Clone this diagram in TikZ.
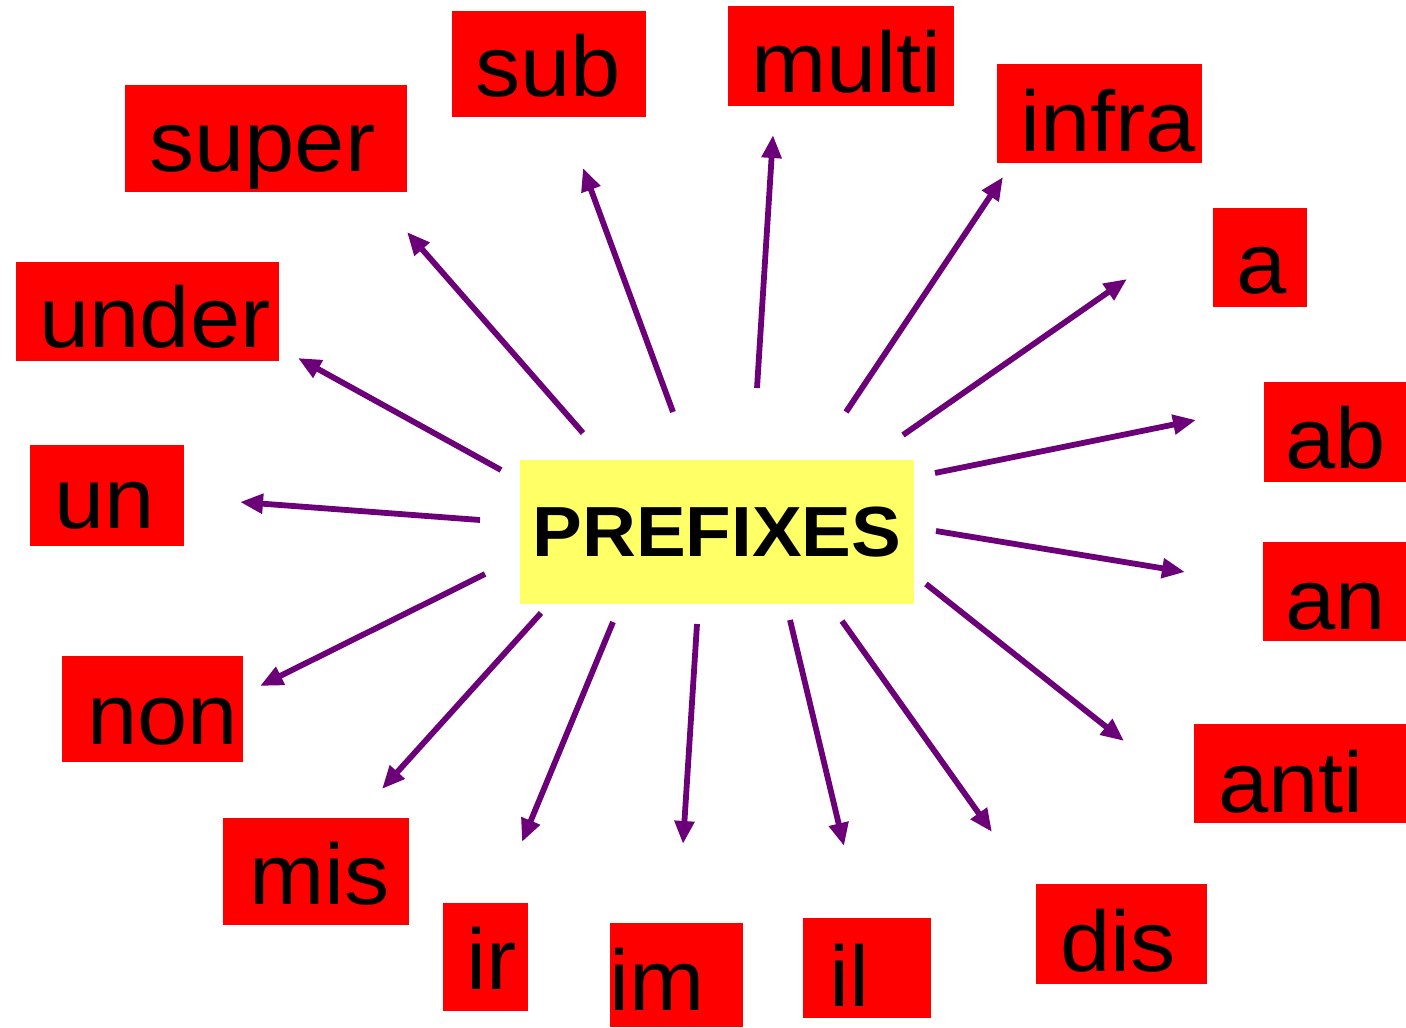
\documentclass[tikz,border=0pt]{standalone}
\usepackage{fontspec}
\setmainfont[FakeStretch=1.05]{Liberation Sans}
\usetikzlibrary{arrows.meta}
\definecolor{boxred}{RGB}{255,0,0}
\definecolor{boxyellow}{RGB}{255,255,102}
\definecolor{arrowpurple}{RGB}{108,0,120}
\tikzset{
  rbox/.style={fill=boxred, inner sep=0pt, outer sep=0pt},
  word/.style={anchor=base west, inner sep=0pt, text=black, font=\fontsize{43pt}{50pt}\selectfont},
  arr/.style={draw=arrowpurple, line width=2.9pt, -{Triangle[length=11.5pt,width=9.5pt]}}
}
\begin{document}
\begin{tikzpicture}[x=0.5pt,y=-0.5pt]
\useasboundingbox (0,0) rectangle (1406,1027);
\fill[white] (0,0) rectangle (1406,1027);
% centre
\node[fill=boxyellow, inner sep=0pt, minimum width=197pt, minimum height=72pt,
      font=\bfseries\fontsize{35.5pt}{42pt}\selectfont] (P) at (717,532) {PREFIXES};
% boxes
\node[rbox, minimum width=141pt, minimum height=53.5pt] (super) at (266,138.5) {};
\node[rbox, minimum width=97pt, minimum height=53pt] (sub) at (549,64) {};
\node[rbox, minimum width=113pt, minimum height=50pt] (multi) at (841,56) {};
\node[rbox, minimum width=102.5pt, minimum height=49.5pt] (infra) at (1099.5,113.5) {};
\node[rbox, minimum width=47pt, minimum height=49.5pt] (a) at (1260,257.5) {};
\node[rbox, minimum width=71pt, minimum height=50pt] (ab) at (1335,432) {};
\node[rbox, minimum width=71.5pt, minimum height=49.5pt] (an) at (1334.5,591.5) {};
\node[rbox, minimum width=106pt, minimum height=49.5pt] (anti) at (1300,773.5) {};
\node[rbox, minimum width=85.5pt, minimum height=50pt] (dis) at (1121.5,934) {};
\node[rbox, minimum width=64pt, minimum height=50pt] (il) at (867,968) {};
\node[rbox, minimum width=66.5pt, minimum height=52pt] (im) at (676.5,975) {};
\node[rbox, minimum width=42.5pt, minimum height=54pt] (ir) at (485.5,957) {};
\node[rbox, minimum width=93pt, minimum height=53.5pt] (mis) at (316,871.5) {};
\node[rbox, minimum width=90.5pt, minimum height=53pt] (non) at (152.5,709) {};
\node[rbox, minimum width=77pt, minimum height=50.5pt] (un) at (107,495.5) {};
\node[rbox, minimum width=131.5pt, minimum height=49.5pt] (under) at (147.5,311.5) {};
% words
\node[word] (t-super) at (149,172) {super};
\node[word] (t-sub) at (475,97) {sub};
\node[word] (t-multi) at (751,93) {multi};
\node[word] (t-infra) at (1020,152) {infra};
\node[word] (t-a) at (1236,293) {a};
\node[word] (t-ab) at (1285,468) {ab};
\node[word] (t-an) at (1285,629) {an};
\node[word] (t-anti) at (1218,812) {anti};
\node[word] (t-dis) at (1060,971) {dis};
\node[word] (t-il) at (829,1006) {il};
\node[word] (t-im) at (609,1010) {im};
\node[word] (t-ir) at (466,989) {ir};
\node[word] (t-mis) at (249,904) {mis};
\node[word] (t-non) at (87,744) {non};
\node[word] (t-un) at (54,528) {un};
\node[word] (t-under) at (39,347) {under};
% arrow ends
\coordinate (s-super) at (583,433); \coordinate (e-super) at (407,232);
\coordinate (s-sub) at (673,412);   \coordinate (e-sub) at (583,168);
\coordinate (s-multi) at (757,388); \coordinate (e-multi) at (773,135);
\coordinate (s-infra) at (846,412); \coordinate (e-infra) at (1003,177);
\coordinate (s-a) at (903,435);     \coordinate (e-a) at (1127,279);
\coordinate (s-ab) at (935,473);    \coordinate (e-ab) at (1196,420);
\coordinate (s-an) at (936,531);    \coordinate (e-an) at (1185,572);
\coordinate (s-anti) at (926,584);  \coordinate (e-anti) at (1124,741);
\coordinate (s-dis) at (842,621);   \coordinate (e-dis) at (992,832);
\coordinate (s-il) at (790,620);    \coordinate (e-il) at (844,846);
\coordinate (s-im) at (697,624);    \coordinate (e-im) at (683,844);
\coordinate (s-ir) at (613,622);    \coordinate (e-ir) at (522,842);
\coordinate (s-mis) at (541,613);   \coordinate (e-mis) at (382,789);
\coordinate (s-non) at (485,574);   \coordinate (e-non) at (260,686);
\coordinate (s-un) at (480,520);    \coordinate (e-un) at (240,502);
\coordinate (s-under) at (501,470); \coordinate (e-under) at (298,358);
\foreach \n in {super,sub,multi,infra,a,ab,an,anti,dis,il,im,ir,mis,non,un,under}
  \draw[arr] (s-\n) -- (e-\n);
\end{tikzpicture}
\end{document}
